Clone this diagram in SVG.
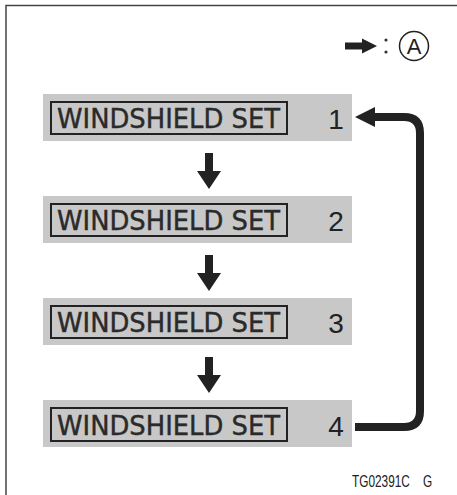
<svg xmlns="http://www.w3.org/2000/svg" width="457" height="495" viewBox="0 0 457 495">
<style>
.bg{fill:#c8c8c8}
.box{fill:none;stroke:#222;stroke-width:2}
.lbl{font-family:"DejaVu Sans Condensed","Liberation Sans",sans-serif;font-size:27px;fill:#2a2a2a;stroke:#2a2a2a;stroke-width:0.4}
.num{font-family:"Liberation Sans",sans-serif;font-size:28px;fill:#222;text-anchor:middle}
.arr{fill:#222}
.line{fill:none;stroke:#222;stroke-width:8}
.code{font-family:"Liberation Sans",sans-serif;font-size:16px;fill:#222}
</style>
<rect width="457" height="495" fill="#fff"/>
<path d="M6,495 V5.5 H457" fill="none" stroke="#444" stroke-width="1.5"/>
<g id="legend">
<path class="arr" d="M345,42.5 H362 V38.5 L377,46 L362,53.5 V49.5 H345 Z"/>
<circle cx="386" cy="40" r="1.6" fill="#333"/>
<circle cx="386" cy="52" r="1.6" fill="#333"/>
<circle cx="414" cy="46" r="14.5" fill="none" stroke="#222" stroke-width="1.5"/>
<text x="414" y="54" font-family="Liberation Sans,sans-serif" font-size="22" text-anchor="middle" fill="#222">A</text>
</g>
<g id="node1">
<rect class="bg" x="43" y="94" width="309" height="47"/>
<rect class="box" x="51" y="102" width="236" height="32"/>
<text class="lbl" x="57" y="128" textLength="223" lengthAdjust="spacingAndGlyphs">WINDSHIELD SET</text>
<text class="num" x="336" y="129">1</text>
</g>
<g id="node2">
<rect class="bg" x="43" y="196" width="309" height="47"/>
<rect class="box" x="51" y="204" width="236" height="32"/>
<text class="lbl" x="57" y="230" textLength="223" lengthAdjust="spacingAndGlyphs">WINDSHIELD SET</text>
<text class="num" x="336" y="231">2</text>
</g>
<g id="node3">
<rect class="bg" x="43" y="298" width="309" height="47"/>
<rect class="box" x="51" y="306" width="236" height="32"/>
<text class="lbl" x="57" y="332" textLength="223" lengthAdjust="spacingAndGlyphs">WINDSHIELD SET</text>
<text class="num" x="336" y="333">3</text>
</g>
<g id="node4">
<rect class="bg" x="43" y="400" width="309" height="47"/>
<rect class="box" x="51" y="408" width="236" height="33"/>
<text class="lbl" x="57" y="435" textLength="223" lengthAdjust="spacingAndGlyphs">WINDSHIELD SET</text>
<text class="num" x="336" y="436">4</text>
</g>
<g id="connectors">
<path class="arr" d="M205,153 H213 V171 H221 L209,189 L197,171 H205 Z"/>
<path class="arr" d="M205,255 H213 V273 H221 L209,291 L197,273 H205 Z"/>
<path class="arr" d="M205,357 H213 V375 H221 L209,393 L197,375 H205 Z"/>
<path class="line" d="M355,427 H404 Q420,427 420,411 V133 Q420,117 404,117 H372"/>
<path class="arr" d="M355,117 L375,107 V127 Z"/>
</g>
<g transform="translate(352,487) scale(0.74,1)">
<text class="code" x="0" y="0">TG02391C</text>
<text class="code" x="96" y="0">G</text>
</g>
</svg>
